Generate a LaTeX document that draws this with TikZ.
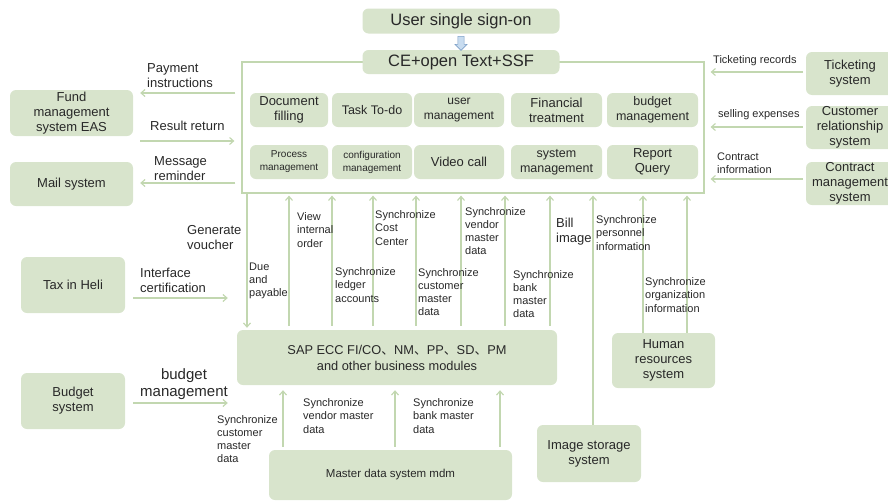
\documentclass[tikz,border=0pt]{standalone}
\usepackage{fontspec}
\setmainfont{Liberation Sans}
\newfontfamily\cjk{Noto Sans CJK SC}
\usepackage{tikz}
\usetikzlibrary{arrows.meta,calc,shapes.arrows}
\definecolor{ssFill}{RGB}{216,228,204}
\definecolor{ssLine}{RGB}{194,215,176}
\definecolor{ssText}{RGB}{40,40,40}
\definecolor{ssBlue}{RGB}{125,160,200}
\definecolor{ssBlueFill}{RGB}{200,220,240}
\newcommand{\sapsep}{{\cjk 、}}
\tikzset{
  ssBox/.style={fill=ssFill, rounded corners=6pt, align=center, inner sep=0pt,
                text=ssText, font=\fontsize{13}{15}\selectfont},
  ssPanel/.style={draw=ssLine, line width=1.2pt, fill=white, inner sep=0pt},
  ssArrow/.style={-{Straight Barb[length=4pt,width=7pt]}, draw=ssLine,
                  line width=1.15pt},
  ssLabel/.style={anchor=west, align=left, inner sep=0pt, text=ssText,
                  font=\fontsize{13}{15}\selectfont},
  ssSmall/.style={ssLabel, font=\fontsize{11}{13.2}\selectfont},
  ssBlockArrow/.style={shape=single arrow, draw=ssBlue, fill=ssBlueFill,
                       line width=0.6pt, rotate=-90, inner sep=2.5pt,
                       minimum height=14pt, minimum width=12pt,
                       single arrow head extend=2.5pt}
}

\begin{document}
\begin{tikzpicture}[x=1pt,y=-1pt]
  \useasboundingbox (0,0) rectangle (888,501);

  % portal frame and its modules
  \node[ssPanel] (panel) at (473,127.5) [minimum width=462pt, minimum height=131pt] {};
  \node[ssBox] (sso) at (461,21) [minimum width=197pt, minimum height=25pt, font=\fontsize{16.5}{18}\selectfont] {User single sign-on};
  \node[ssBox] (cess) at (461,62) [minimum width=197pt, minimum height=24pt, font=\fontsize{16.5}{18}\selectfont] {CE+open Text+SSF};
  \node[ssBlockArrow] (ssoArrow) at ($(sso.south)!0.5!(cess.north)$) {};

  \node[ssBox] (docFill) at (289,110) [minimum width=78pt, minimum height=34pt] {Document\\filling};
  \node[ssBox] (taskTodo) at (372,110) [minimum width=80pt, minimum height=34pt, font=\fontsize{12.5}{15}\selectfont] {Task To-do};
  \node[ssBox] (userMgmt) at (459,110) [minimum width=90pt, minimum height=34pt, font=\fontsize{12}{14.5}\selectfont] {user\\management};
  \node[ssBox] (finTreat) at (556.5,110) [minimum width=91pt, minimum height=34pt] {Financial\\treatment};
  \node[ssBox] (budgetMgmt) at (652.5,110) [minimum width=91pt, minimum height=34pt, font=\fontsize{12.5}{15}\selectfont] {budget\\management};

  \node[ssBox] (procMgmt) at (289,162) [minimum width=78pt, minimum height=34pt, font=\fontsize{10}{13}\selectfont] {Process\\management};
  \node[ssBox] (confMgmt) at (372,162) [minimum width=80pt, minimum height=34pt, font=\fontsize{10}{13}\selectfont] {configuration\\management};
  \node[ssBox] (videoCall) at (459,162) [minimum width=90pt, minimum height=34pt] {Video call};
  \node[ssBox] (sysMgmt) at (556.5,162) [minimum width=91pt, minimum height=34pt, font=\fontsize{12.5}{15}\selectfont] {system\\management};
  \node[ssBox] (reportQuery) at (652.5,162) [minimum width=91pt, minimum height=34pt] {Report\\Query};

  % outside systems
  \node[ssBox] (fundEas) at (71.5,113) [minimum width=123pt, minimum height=46pt] {Fund\\management\\system EAS};
  \node[ssBox] (mailSys) at (71.5,184) [minimum width=123pt, minimum height=44pt] {Mail system};
  \node[ssBox] (taxHeli) at (73,285) [minimum width=104pt, minimum height=56pt] {Tax in Heli};
  \node[ssBox] (budgetSys) at (73,401) [minimum width=104pt, minimum height=56pt] {Budget\\system};
  \node[ssBox] (ticketSys) at (850,73.5) [minimum width=88pt, minimum height=43pt] {Ticketing\\system};
  \node[ssBox] (crmSys) at (850,127.5) [minimum width=88pt, minimum height=43pt] {Customer\\relationship\\system};
  \node[ssBox] (contractSys) at (850,183.5) [minimum width=88pt, minimum height=43pt] {Contract\\management\\system};

  \node[ssBox] (sap) at (397,357.5) [minimum width=320pt, minimum height=55pt, font=\fontsize{12.8}{16}\selectfont] {SAP ECC FI/CO\sapsep NM\sapsep PP\sapsep SD\sapsep PM\\and other business modules};
  \node[ssBox] (hrSys) at (663.5,360.5) [minimum width=103pt, minimum height=55pt] {Human\\resources\\system};
  \node[ssBox] (imgStore) at (589,453.5) [minimum width=104pt, minimum height=57pt] {Image storage\\system};
  \node[ssBox] (mdm) at (390.5,475) [minimum width=243pt, minimum height=50pt, font=\fontsize{11.5}{14}\selectfont] {Master data system mdm};

  % left side flows
  \draw[ssArrow, shorten <=6pt, shorten >=7pt] (panel.west |- 0,93) -- (fundEas.east |- 0,93);
  \draw[ssArrow, shorten <=7pt, shorten >=7pt] (fundEas.east |- 0,141) -- (panel.west |- 0,141);
  \draw[ssArrow, shorten <=6pt, shorten >=7pt] (panel.west |- 0,183) -- (mailSys.east |- 0,183);
  \draw[ssArrow, shorten <=8pt, shorten >=9pt] (taxHeli.east |- 0,298) -- (sap.west |- 0,298);
  \draw[ssArrow, shorten <=8pt, shorten >=9pt] (budgetSys.east |- 0,403) -- (sap.west |- 0,403);
  \node[ssLabel] (lblPay) at (147,76) {Payment\\instructions};
  \node[ssLabel] (lblResult) at (150,126) {Result return};
  \node[ssLabel] (lblMsg) at (154,169) {Message\\reminder};
  \node[ssLabel] (lblVoucher) at (187,238) {Generate\\voucher};
  \node[ssLabel] (lblCert) at (140,280) {Interface\\certification};
  \node[ssLabel, anchor=center, align=center, font=\fontsize{15}{17}\selectfont] (lblBudget) at (184,384) {budget\\management};

  % right side flows
  \draw[ssArrow, shorten <=3pt, shorten >=6pt] (ticketSys.west |- 0,72) -- (panel.east |- 0,72);
  \draw[ssArrow, shorten <=3pt, shorten >=6pt] (crmSys.west |- 0,127) -- (panel.east |- 0,127);
  \draw[ssArrow, shorten <=3pt, shorten >=6pt] (contractSys.west |- 0,179) -- (panel.east |- 0,179);
  \node[ssSmall] (lblTicket) at (713,61) {Ticketing records};
  \node[ssSmall] (lblSelling) at (718,115) {selling expenses};
  \node[ssSmall] (lblContract) at (717,163) {Contract\\information};

  % between portal and SAP
  \draw[ssArrow, shorten >=2pt] (panel.south -| 247,0) -- (sap.north -| 247,0);
  \foreach \x in {289,332,373,416,461,505,550}
    \draw[ssArrow, shorten <=4pt, shorten >=2pt] (sap.north -| \x,0) -- (panel.south -| \x,0);
  \draw[ssArrow, shorten >=2pt] (imgStore.north -| 593,0) -- (panel.south -| 593,0);
  \foreach \x in {643,687}
    \draw[ssArrow, shorten >=2pt] (hrSys.north -| \x,0) -- (panel.south -| \x,0);
  \node[ssSmall] (lblDue) at (249,281) {Due\\and\\payable};
  \node[ssSmall] (lblView) at (297,230) {View\\internal\\order};
  \node[ssSmall] (lblLedger) at (335,285) {Synchronize\\ledger\\accounts};
  \node[ssSmall] (lblCost) at (375,228) {Synchronize\\Cost\\Center};
  \node[ssSmall] (lblCust) at (418,292) {Synchronize\\customer\\master\\data};
  \node[ssSmall] (lblVendor) at (465,231) {Synchronize\\vendor\\master\\data};
  \node[ssSmall] (lblBank) at (513,294) {Synchronize\\bank\\master\\data};
  \node[ssLabel] (lblBill) at (556,232) {Bill\\image};
  \node[ssSmall] (lblPersonnel) at (596,233) {Synchronize\\personnel\\information};
  \node[ssSmall] (lblOrg) at (645,295) {Synchronize\\organization\\information};

  % master data into SAP
  \foreach \x in {283,395,500}
    \draw[ssArrow, shorten <=3pt, shorten >=5pt] (mdm.north -| \x,0) -- (sap.south -| \x,0);
  \node[ssSmall] (lblMdmCust) at (217,439) {Synchronize\\customer\\master\\data};
  \node[ssSmall] (lblMdmVendor) at (303,416) {Synchronize\\vendor master\\data};
  \node[ssSmall] (lblMdmBank) at (413,416) {Synchronize\\bank master\\data};
\end{tikzpicture}
\end{document}
